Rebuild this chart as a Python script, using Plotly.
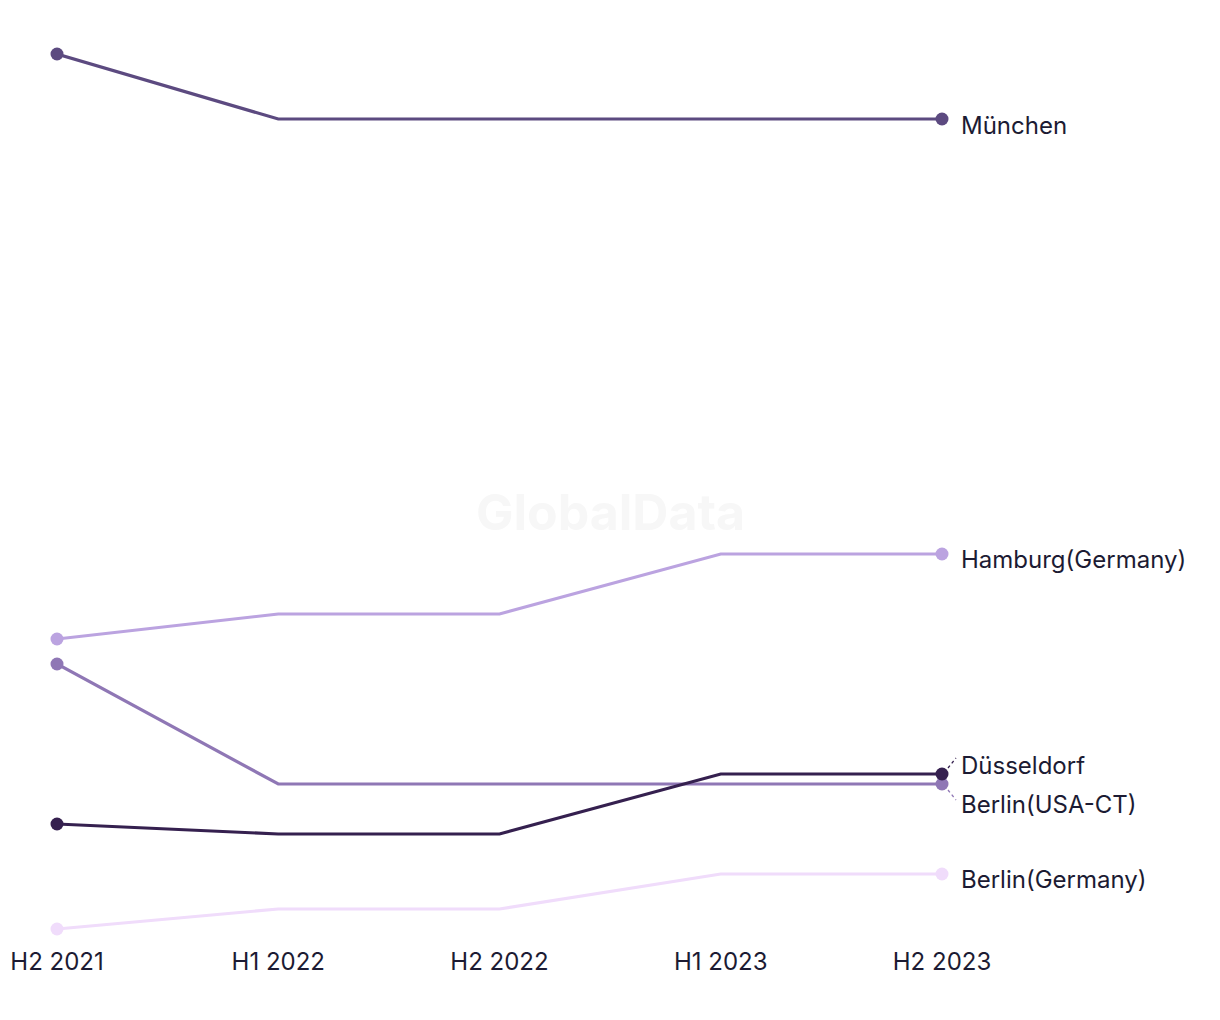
import plotly.graph_objects as go

periods = ["H2 2021", "H1 2022", "H2 2022", "H1 2023", "H2 2023"]
series_names = ["München", "Hamburg(Germany)", "Berlin(USA-CT)", "Düsseldorf", "Berlin(Germany)"]
muenchen = [177, 164, 164, 164, 164]
hamburg = [60, 65, 65, 77, 77]
berlin_usa = [55, 31, 31, 31, 31]
duesseldorf = [23, 21, 21, 33, 33]
berlin_de = [2, 6, 6, 13, 13]

values = [muenchen, hamburg, berlin_usa, duesseldorf, berlin_de]
colors = ["#5c4a80", "#bba3e0", "#8f77b5", "#35204f", "#f0dcfb"]
label_shift = [-6, -5, -20, 9, -5]

FONT = "Inter"
TEXT = "#1c1b33"
x_idx = list(range(len(periods)))
Y_RANGE = [-0.2, 179.8]

fig = go.Figure()
for name, vals, col in zip(series_names, values, colors):
    fig.add_trace(go.Scatter(
        x=x_idx, y=vals, mode="lines", name=name,
        line=dict(color=col, width=3.2), hoverinfo="skip", showlegend=False,
        cliponaxis=False))
for name, vals, col in zip(series_names, values, colors):
    fig.add_trace(go.Scatter(
        x=[x_idx[0], x_idx[-1]], y=[vals[0], vals[-1]], mode="markers",
        marker=dict(color=col, size=13), showlegend=False, cliponaxis=False,
        hovertemplate=name + ": %{y}<extra></extra>"))

for name, vals, col, ys in zip(series_names, values, colors, label_shift):
    fig.add_annotation(x=x_idx[-1], y=vals[-1], text=name, showarrow=False,
                       xanchor="left", yanchor="middle", xshift=17, yshift=ys,
                       font=dict(family=FONT, size=24, color=TEXT))

# dashed leader lines for offset labels
for vals, col, y0, y1 in [(duesseldorf, colors[3], 6, 16), (berlin_usa, colors[2], -6, -16)]:
    yfrac = (vals[-1] - Y_RANGE[0]) / (Y_RANGE[1] - Y_RANGE[0])
    fig.add_shape(type="line", xref="paper", yref="paper",
                  xsizemode="pixel", xanchor=1, x0=6, x1=14,
                  ysizemode="pixel", yanchor=yfrac, y0=y0, y1=y1,
                  line=dict(color=col, width=1.3, dash="dot"))

fig.add_annotation(x=0.5, y=0.5, xref="paper", yref="paper", text="<b>GlobalData</b>",
                   showarrow=False, font=dict(family=FONT, size=50, color="#f7f7f7"),
                   xshift=111, yshift=-22)

fig.update_layout(
    width=1220, height=1020,
    margin=dict(l=49, r=286, t=32, b=88),
    paper_bgcolor="white", plot_bgcolor="white",
    xaxis=dict(range=[0, 4], tickvals=x_idx, ticktext=periods, showgrid=False,
               zeroline=False, showline=False, ticks="", ticklabelstandoff=5,
               automargin=False,
               tickfont=dict(family=FONT, size=24, color=TEXT)),
    yaxis=dict(range=Y_RANGE, showgrid=False, zeroline=False, automargin=False,
               showticklabels=False, showline=False, ticks=""),
)

fig.write_html("out.html")
